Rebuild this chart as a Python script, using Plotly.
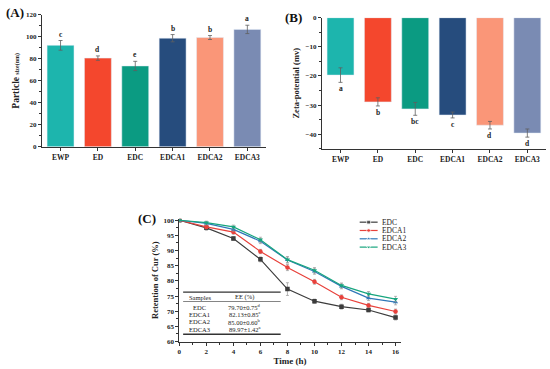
import plotly.graph_objects as go

# ---------------- data ----------------
samples = ["EWP", "ED", "EDC", "EDCA1", "EDCA2", "EDCA3"]
bar_colors = ["#1db5ad", "#f4472d", "#0b9b82", "#264c7d", "#fa9678", "#7a8bb3"]

size_vals = [92.2, 80.6, 73.5, 98.7, 99.3, 106.7]
size_err = [4.4, 2.0, 4.2, 3.3, 1.8, 3.8]
size_letters = ["c", "d", "e", "b", "b", "a"]

zeta_vals = [-19.7, -28.9, -31.3, -33.4, -36.9, -39.6]
zeta_err = [2.5, 1.4, 2.2, 1.0, 1.3, 1.4]
zeta_letters = ["a", "b", "bc", "c", "d", "d"]

time_h = [0, 2, 4, 6, 8, 10, 12, 14, 16]
ret_EDC = [100, 97.5, 94.0, 87.1, 77.3, 73.3, 71.5, 70.4, 67.9]
ret_EDCA1 = [100, 97.8, 96.1, 89.7, 84.4, 79.7, 74.6, 71.9, 69.9]
ret_EDCA2 = [100, 99.0, 97.0, 93.1, 86.9, 83.1, 78.2, 74.3, 73.0]
ret_EDCA3 = [100, 99.2, 97.8, 93.6, 87.0, 83.5, 78.5, 75.7, 74.0]
err_EDC = [0.3, 0.8, 0.6, 0.8, 2.1, 0.7, 0.8, 0.6, 0.8]
err_EDCA1 = [0.3, 0.6, 0.7, 0.7, 1.0, 0.8, 0.8, 0.7, 0.8]
err_EDCA2 = [0.3, 0.5, 0.6, 0.8, 1.0, 0.9, 0.8, 0.8, 0.9]
err_EDCA3 = [0.3, 0.5, 0.6, 0.8, 1.0, 0.9, 0.8, 0.8, 0.9]
series_names = ["EDC", "EDCA1", "EDCA2", "EDCA3"]
series_colors = ["#3c3c3c", "#e8413b", "#2f78b8", "#17a57e"]
series_symbols = ["square", "circle", "triangle-up", "triangle-down"]

table_samples = ["EDC", "EDCA1", "EDCA2", "EDCA3"]
table_ee = ["79.70±0.75<sup>d</sup>", "82.13±0.85<sup>c</sup>",
            "85.00±0.60<sup>b</sup>", "89.97±1.42<sup>a</sup>"]

# ---------------- figure ----------------
FONT = "Liberation Serif, Times New Roman, serif"
W, H = 550, 369
fig = go.Figure()

def px_x(a, b):
    return [a / W, b / W]

def px_y(top, bottom):
    return [1 - bottom / H, 1 - top / H]

# Panel A
fig.add_trace(go.Bar(
    x=samples, y=size_vals, marker_color=bar_colors, width=0.72,
    error_y=dict(type="data", array=size_err, color="#606060", thickness=0.8, width=2),
    xaxis="x", yaxis="y", showlegend=False))
# Panel B
fig.add_trace(go.Bar(
    x=samples, y=zeta_vals, marker_color=bar_colors, width=0.72,
    error_y=dict(type="data", array=zeta_err, color="#606060", thickness=0.8, width=2),
    xaxis="x2", yaxis="y2", showlegend=False))
# Panel C
rets = [ret_EDC, ret_EDCA1, ret_EDCA2, ret_EDCA3]
errs = [err_EDC, err_EDCA1, err_EDCA2, err_EDCA3]
for name, col, sym, r, e in zip(series_names, series_colors, series_symbols, rets, errs):
    fig.add_trace(go.Scatter(
        x=time_h, y=r, name=name, mode="lines+markers", showlegend=False,
        line=dict(color=col, width=1.2), marker=dict(symbol=sym, size=4.5, color=col),
        error_y=dict(type="data", array=e, color="#9a9a9a", thickness=0.7, width=1.5),
        xaxis="x3", yaxis="y3"))

# compact legend for panel C drawn on a pixel-space overlay axis
leg_rows = [223, 231.5, 240, 248.5]
for name, col, sym, ry in zip(series_names, series_colors, series_symbols, leg_rows):
    fig.add_trace(go.Scatter(
        x=[359, 368, 377], y=[ry, ry, ry], mode="lines+markers", showlegend=False,
        line=dict(color=col, width=1.2),
        marker=dict(symbol=sym, size=[0, 4, 0], color=col),
        hoverinfo="skip", xaxis="x4", yaxis="y4"))

tickfont = dict(family=FONT, size=7, color="#222", weight="bold")
catfont = dict(family=FONT, size=7.5, color="#222", weight="bold")
axcommon = dict(showline=True, linecolor="#333", linewidth=1, ticks="outside",
                ticklen=3, tickwidth=0.8, tickcolor="#333", showgrid=False,
                zeroline=False, tickfont=tickfont)

fig.update_layout(
    width=W, height=H, margin=dict(l=0, r=0, t=0, b=0),
    paper_bgcolor="white", plot_bgcolor="rgba(0,0,0,0)", showlegend=False,
    font=dict(family=FONT, color="#222"),
    xaxis=dict(domain=px_x(40, 265), range=[-0.5, 5.5], anchor="y",
               **{**axcommon, "tickfont": catfont}),
    yaxis=dict(domain=px_y(11, 146), range=[0, 120], anchor="x", dtick=20,
               minor=dict(dtick=10, ticks="outside", ticklen=2, tickcolor="#333"),
               title=dict(text="<b>Particle</b> <span style='font-size:6px'>size(nm)</span>",
                          font=dict(family=FONT, size=9.5, color="#222", weight="bold"), standoff=4),
               **axcommon),
    xaxis2=dict(domain=px_x(321, 546), range=[-0.5, 5.5], anchor="y2",
                **{**axcommon, "tickfont": catfont}),
    yaxis2=dict(domain=px_y(14, 148), range=[-45, 0], anchor="x2", dtick=10,
                minor=dict(dtick=5, ticks="outside", ticklen=2, tickcolor="#333"),
                title=dict(text="Zeta-potential (mv)",
                           font=dict(family=FONT, size=8.5, color="#222", weight="bold"), standoff=4),
                **axcommon),
    xaxis3=dict(domain=px_x(178, 400), range=[0, 16.37], anchor="y3", dtick=2,
                minor=dict(dtick=1, ticks="outside", ticklen=2, tickcolor="#333"),
                title=dict(text="Time (h)",
                           font=dict(family=FONT, size=9, color="#222", weight="bold"), standoff=1),
                **axcommon),
    yaxis3=dict(domain=px_y(219.5, 345), range=[60, 100.5], anchor="x3", dtick=5,
                minor=dict(dtick=2.5, ticks="outside", ticklen=2, tickcolor="#333"),
                title=dict(text="Retention of Cur (%)",
                           font=dict(family=FONT, size=8.5, color="#222", weight="bold"), standoff=3),
                **axcommon),
    xaxis4=dict(domain=[0, 1], range=[0, W], anchor="y4", visible=False, fixedrange=True),
    yaxis4=dict(domain=[0, 1], range=[H, 0], anchor="x4", visible=False, fixedrange=True),
)

annotations = []
# panel letters
for txt, x, y in [("(A)", 2, 9), ("(B)", 282, 14), ("(C)", 134, 219)]:
    annotations.append(dict(text=f"<b>{txt}</b>", x=x, y=y, xref="x4", yref="y4",
                            xanchor="left", yanchor="middle", showarrow=False,
                            font=dict(family=FONT, size=13, color="#111")))
# legend texts
for name, ry in zip(series_names, leg_rows):
    annotations.append(dict(text=name, x=379, y=ry, xref="x4", yref="y4", xanchor="left",
                            yanchor="middle", showarrow=False,
                            font=dict(family=FONT, size=7.5, color="#222")))
# significance letters
for s, v, e, l in zip(samples, size_vals, size_err, size_letters):
    annotations.append(dict(text=f"<b>{l}</b>", x=s, y=v + e, xref="x", yref="y", yanchor="bottom",
                            showarrow=False, font=dict(family=FONT, size=7.5, color="#222")))
for s, v, e, l in zip(samples, zeta_vals, zeta_err, zeta_letters):
    annotations.append(dict(text=f"<b>{l}</b>", x=s, y=v - e, xref="x2", yref="y2", yanchor="top",
                            showarrow=False, font=dict(family=FONT, size=7.5, color="#222")))

# inset table in panel C
tfont = dict(family=FONT, size=6.5, color="#222")
annotations.append(dict(text="Samples", x=1.5, y=74.6, xref="x3", yref="y3", showarrow=False, font=tfont))
annotations.append(dict(text="EE (%)", x=4.85, y=74.6, xref="x3", yref="y3", showarrow=False, font=tfont))
row_y = [71.3, 69.0, 66.5, 64.0]
for s, ee, ry in zip(table_samples, table_ee, row_y):
    annotations.append(dict(text=s, x=1.5, y=ry, xref="x3", yref="y3", showarrow=False, font=tfont))
    annotations.append(dict(text=ee, x=4.85, y=ry, xref="x3", yref="y3", showarrow=False, font=tfont))
fig.update_layout(annotations=annotations)

shapes = [
    dict(type="line", x0=0.28, x1=7.5, y0=76.3, y1=76.3, xref="x3", yref="y3", line=dict(color="#333", width=1.3)),
    dict(type="line", x0=0.28, x1=7.5, y0=73.2, y1=73.2, xref="x3", yref="y3", line=dict(color="#333", width=0.6)),
    dict(type="line", x0=0.28, x1=7.5, y0=62.4, y1=62.4, xref="x3", yref="y3", line=dict(color="#333", width=1.3)),
]
fig.update_layout(shapes=shapes)

fig.write_html("out.html", config={"displayModeBar": False},
               post_script="document.body.style.margin='0';")
